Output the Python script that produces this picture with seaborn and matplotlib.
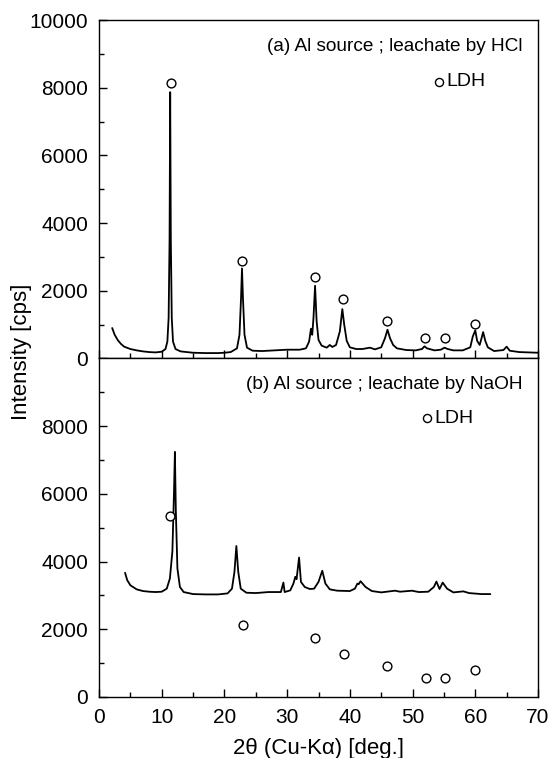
import numpy as np
import pandas as pd
import matplotlib
matplotlib.use('Agg')
import matplotlib.pyplot as plt
import seaborn as sns

# (a) leachate by HCl : 2theta [deg.], intensity [cps]
tt_a = [2.1, 2.5, 3.0, 3.5, 4.0, 5.0, 6.0, 7.0, 8.0, 9.0, 10.0, 10.6, 10.9, 11.1, 11.25,
        11.35, 11.45, 11.6, 11.8, 12.2, 13.0, 15.0, 17.0, 19.0, 20.0, 21.0, 22.0, 22.4,
        22.65, 22.8, 22.95, 23.2, 23.6, 24.5, 26.0, 28.0, 30.0, 32.0, 33.0, 33.5, 33.8,
        34.0, 34.2, 34.45, 34.7, 35.0, 35.5, 36.3, 36.8, 37.2, 37.8, 38.4, 38.8, 39.1,
        39.5, 40.0, 41.0, 42.0, 43.2, 44.0, 45.0, 45.6, 46.0, 46.4, 46.9, 47.5, 49.0,
        50.5, 51.5, 51.9, 52.3, 53.5, 54.5, 55.1, 55.6, 56.5, 58.0, 59.2, 59.6, 60.0,
        60.3, 60.7, 61.0, 61.25, 61.6, 62.0, 63.0, 64.5, 65.0, 65.5, 67.0, 70.0]
int_a = [900, 700, 540, 430, 350, 280, 240, 210, 190, 180, 200, 280, 500, 1200, 3500,
         7870, 3500, 1200, 500, 280, 210, 170, 160, 160, 170, 190, 300, 700,
         1800, 2660, 1800, 700, 320, 230, 220, 240, 260, 260, 300, 500, 880,
         700, 1200, 2150, 1100, 550, 380, 320, 400, 340, 400, 800, 1460, 1000,
         520, 330, 280, 280, 320, 270, 330, 600, 850, 600, 400, 300, 250,
         240, 280, 360, 300, 240, 260, 320, 280, 240, 240, 330, 650, 830,
         520, 400, 600, 780, 520, 330, 220, 250, 350, 230, 190, 170]

# (b) leachate by NaOH
tt_b = [4.15, 4.5, 5.0, 6.0, 7.0, 8.0, 9.0, 10.0, 10.8, 11.3, 11.7, 11.95, 12.1, 12.25,
        12.5, 12.9, 13.5, 15.0, 17.0, 19.0, 20.5, 21.2, 21.6, 21.9, 22.2, 22.6, 23.5,
        25.0, 27.0, 29.0, 29.4, 29.6, 30.5, 31.0, 31.3, 31.5, 31.9, 32.2, 32.8, 33.6,
        34.3, 35.0, 35.6, 36.1, 36.8, 38.0, 40.0, 40.8, 41.2, 41.4, 41.7, 42.5, 43.5,
        45.0, 47.2, 48.0, 49.9, 51.0, 52.5, 53.4, 53.8, 54.3, 54.8, 55.5, 56.5, 58.1,
        59.0, 61.0, 62.4]
int_b = [3670, 3450, 3300, 3180, 3130, 3110, 3100, 3110, 3200, 3500, 4300, 6000, 7240, 5500,
         3800, 3250, 3100, 3040, 3030, 3030, 3060, 3200, 3700, 4460, 3700, 3200, 3080,
         3070, 3100, 3100, 3380, 3100, 3150, 3350, 3550, 3480, 4120, 3400, 3250, 3190,
         3200, 3400, 3730, 3350, 3180, 3140, 3130, 3200, 3350, 3330, 3420, 3250, 3130,
         3090, 3140, 3110, 3140, 3100, 3110, 3250, 3410, 3190, 3380, 3200, 3090, 3120,
         3070, 3040, 3040]

# LDH peak markers
ldh_x_a = [11.4, 22.8, 34.5, 38.9, 46.0, 52.0, 55.2, 59.9]
ldh_y_a = [8140, 2870, 2400, 1750, 1100, 620, 620, 1030]
ldh_x_b = [11.3, 22.9, 34.45, 39.1, 46.0, 52.2, 55.2, 60.0]
ldh_y_b = [5350, 2140, 1730, 1270, 920, 560, 560, 810]

labels = ['(a) Al source ; leachate by HCl', '(b) Al source ; leachate by NaOH']

sns.set_style('ticks')
plt.rcParams['font.family'] = ['Liberation Sans', 'DejaVu Sans']
plt.rcParams['xtick.direction'] = 'in'
plt.rcParams['ytick.direction'] = 'in'
for k in ['text.color', 'axes.labelcolor', 'xtick.color', 'ytick.color', 'axes.edgecolor']:
    plt.rcParams[k] = 'black'

fig, axes = plt.subplots(2, 1, figsize=(5.51, 7.58), dpi=100, sharex=True)
fig.subplots_adjust(left=0.1797, right=0.9764, top=0.9736, bottom=0.0805, hspace=0)

df_a = pd.DataFrame({'tt': tt_a, 'I': int_a})
df_b = pd.DataFrame({'tt': tt_b, 'I': int_b})
panels = [(df_a, ldh_x_a, ldh_y_a, (54.2, 8170)), (df_b, ldh_x_b, ldh_y_b, (52.3, 8230))]

for ax, (df, lx, ly, leg), lab in zip(axes, panels, labels):
    sns.lineplot(data=df, x='tt', y='I', ax=ax, color='black', lw=1.3,
                 estimator=None, sort=False)
    sns.scatterplot(x=lx, y=ly, ax=ax, marker='o', s=40, facecolor='white',
                    edgecolor='black', linewidth=1.0, zorder=3)
    sns.scatterplot(x=[leg[0]], y=[leg[1]], ax=ax, marker='o', s=34, facecolor='white',
                    edgecolor='black', linewidth=1.0, zorder=3)
    ax.text(leg[0] + 1.2, leg[1], 'LDH', fontsize=14, ha='left', va='center')
    ax.text(67.6, 9220, lab, fontsize=13.7, ha='right', va='center')
    ax.set_xlim(0, 70)
    ax.set_ylim(0, 10000)
    ax.set_xticks(range(0, 71, 10))
    ax.set_xticks(range(5, 70, 10), minor=True)
    ax.set_yticks(range(0, 10001, 2000))
    ax.set_yticks(range(1000, 10000, 2000), minor=True)
    ax.tick_params(which='major', length=6, width=1.0, labelsize=15)
    ax.tick_params(which='minor', length=3.5, width=1.0)
    ax.tick_params(axis='y', which='major', pad=8)
    ax.tick_params(axis='x', which='major', pad=8)
    ax.set_xlabel('')
    ax.set_ylabel('')
    for sp in ax.spines.values():
        sp.set_linewidth(1.0)
        sp.set_visible(True)

axes[1].set_yticks(range(0, 9000, 2000))
axes[0].tick_params(labelbottom=False)
axes[1].set_xlabel('2θ (Cu-Kα) [deg.]', fontsize=16, labelpad=8)
fig.text(22 / 551, 1 - 352 / 758, 'Intensity [cps]', rotation=90, fontsize=16,
         ha='center', va='center')

fig.savefig('out.png', dpi=100)
